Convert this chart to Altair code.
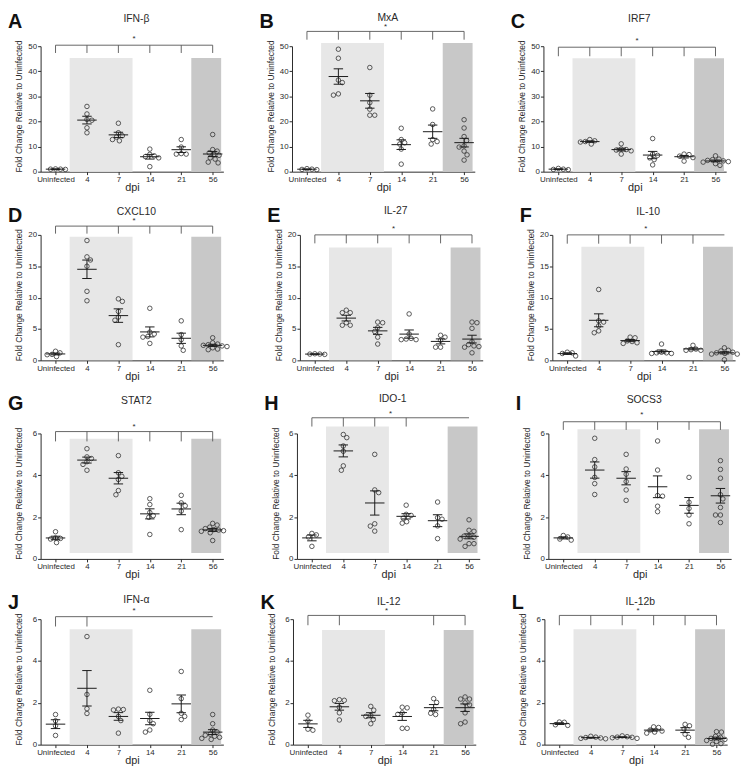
import altair as alt
import pandas as pd

GROUPS = ["Uninfected", "4", "7", "14", "21", "56"]

# ---- data (fold change values per group: Uninfected, 4, 7, 14, 21, 56 dpi) ----
ifn_beta = [[0.9, 1.0, 1.0, 1.1], [26.0, 23.0, 20.8, 20.5, 17.5, 15.5], [19.3, 15.5, 14.3, 13.8, 12.8, 12.3],
            [9.0, 6.9, 6.3, 6.0, 5.5, 2.0], [12.8, 9.8, 7.2, 7.0, 7.0], [14.8, 8.8, 8.2, 7.5, 6.8, 6.5, 5.5, 5.0, 3.8, 3.5]]
mxa = [[0.8, 0.9, 1.0, 1.2], [48.8, 45.2, 36.5, 35.5, 31.0, 30.5], [41.5, 30.5, 27.5, 24.9, 22.5, 22.5],
       [17.3, 12.8, 11.5, 11.0, 9.0, 3.0], [25.0, 18.8, 12.8, 12.0, 11.0], [20.7, 17.4, 14.0, 12.4, 10.3, 9.8, 8.2, 6.7, 4.6]]
irf7 = [[0.8, 0.9, 1.0, 1.3], [11.0, 11.8, 12.0, 12.3, 12.8], [11.1, 9.0, 8.8, 8.6, 8.3, 7.0],
        [13.2, 7.0, 6.5, 5.5, 4.8, 2.7], [7.0, 6.8, 6.2, 5.6, 4.2], [6.3, 5.0, 4.8, 4.5, 4.3, 4.0, 3.8, 3.2, 2.5]]
cxcl10 = [[1.2, 0.95, 0.6, 1.45, 0.9], [19.1, 16.5, 16.0, 15.0, 11.0, 9.5], [9.8, 9.4, 7.8, 6.9, 6.4, 2.5],
          [8.3, 4.5, 4.2, 3.8, 3.7, 2.7], [6.3, 4.1, 3.3, 2.3, 1.6], [3.6, 2.8, 2.6, 2.5, 2.4, 2.3, 2.2, 2.0, 1.8, 1.7]]
il27 = [[0.95, 1.0, 1.0, 1.05], [7.6, 7.6, 8.0, 6.0, 5.6, 5.6], [6.1, 6.0, 5.2, 4.6, 3.7, 2.6],
        [7.4, 4.2, 3.5, 3.4, 3.3, 3.3], [3.7, 4.0, 3.2, 2.1, 2.1], [6.1, 6.0, 5.1, 3.0, 2.5, 2.3, 2.2, 2.1, 1.2]]
il10 = [[1.2, 1.1, 0.7, 1.3], [11.3, 6.3, 6.1, 5.5, 4.7, 4.4], [3.7, 3.6, 3.1, 3.0, 2.8, 2.7],
        [2.6, 1.3, 1.2, 1.2, 1.1, 1.1], [2.4, 1.8, 1.7, 1.6, 1.6], [2.0, 1.6, 1.5, 1.3, 1.2, 1.1, 1.0, 1.0, 0.1]]
stat2 = [[1.3, 1.0, 0.98, 0.95, 0.78], [5.27, 4.8, 4.88, 4.65, 4.52, 4.24], [4.94, 3.95, 4.12, 3.8, 3.27, 3.07],
         [2.88, 2.6, 2.22, 2.07, 1.99, 1.17], [3.04, 2.68, 2.54, 2.29, 1.4],
         [1.7, 1.62, 1.52, 1.45, 1.4, 1.38, 1.35, 1.32, 1.25, 0.88]]
ido1 = [[1.15, 1.22, 1.05, 0.6], [5.8, 5.95, 5.4, 5.15, 4.24, 4.45], [5.0, 3.17, 3.3, 1.68, 1.57, 1.33],
        [2.57, 2.13, 2.08, 1.95, 1.78, 1.71], [2.72, 1.97, 1.9, 1.58, 0.97],
        [1.87, 1.37, 1.32, 1.1, 1.09, 1.04, 0.95, 0.73, 0.73, 0.6]]
socs3 = [[1.05, 0.9, 0.95, 1.12], [5.77, 4.75, 4.4, 3.9, 3.6, 3.08], [5.0, 4.3, 4.05, 3.7, 3.3, 2.8],
         [5.64, 4.25, 3.03, 3.0, 2.52, 2.26], [3.9, 2.71, 2.41, 2.1, 1.68],
         [4.7, 4.28, 3.86, 3.07, 2.87, 2.46, 2.1, 2.1, 1.74]]
ifn_alpha = [[1.44, 1.14, 0.9, 0.44], [5.17, 2.4, 1.72, 1.49], [1.7, 1.68, 1.66, 1.35, 1.15, 0.55],
             [2.6, 1.45, 1.15, 1.0, 0.7, 0.6], [3.5, 2.2, 1.5, 1.35, 1.2],
             [1.44, 1.0, 0.7, 0.6, 0.5, 0.45, 0.4, 0.35, 0.3, 0.25]]
il12 = [[1.41, 1.13, 0.69, 0.74], [2.15, 2.1, 2.12, 1.79, 1.52, 1.18], [1.83, 1.65, 1.4, 1.35, 1.2, 1.0],
        [1.79, 1.76, 1.52, 1.45, 0.78, 0.78], [2.2, 2.02, 1.68, 1.5, 1.44],
        [2.28, 2.18, 2.18, 2.0, 1.9, 1.52, 1.08, 1.0]]
il12b = [[1.07, 0.92, 0.95, 1.08], [0.4, 0.36, 0.34, 0.32, 0.3, 0.28], [0.42, 0.38, 0.36, 0.35, 0.33, 0.3],
         [0.85, 0.82, 0.7, 0.65, 0.6, 0.55], [0.97, 0.9, 0.75, 0.5, 0.35],
         [0.62, 0.6, 0.4, 0.35, 0.3, 0.25, 0.2, 0.15, 0.05, 0.02]]

letters = ["A", "B", "C", "D", "E", "F", "G", "H", "I", "J", "K", "L"]
titles = ["IFN-β", "MxA", "IRF7", "CXCL10", "IL-27", "IL-10", "STAT2", "IDO-1", "SOCS3", "IFN-α", "IL-12", "IL-12b"]
series = [ifn_beta, mxa, irf7, cxcl10, il27, il10, stat2, ido1, socs3, ifn_alpha, il12, il12b]
y_max = [50, 50, 50, 20, 20, 20, 6, 6, 6, 6, 6, 6]
y_ticks = [[0, 10, 20, 30, 40, 50]] * 3 + [[0, 5, 10, 15, 20]] * 3 + [[0, 2, 4, 6]] * 6
shade_top = [45.3, 51.3, 45.2, 19.7, 18.0, 18.1, 5.75, 6.33, 6.2, 5.52, 5.48, 5.52]
shade_bottom = [0, 0, 0, 0, 0, 0, 0.28, 0.28, 0.28, 0, 0, 0]
bracket_top = [50.4, 55.9, 49.6, 21.4, 20.0, 20.0, 6.09, 6.75, 6.56, 6.12, 6.18, 6.18]
bracket_tick = [47.3, 52.6, 46.0, 20.2, 18.65, 18.6, 5.62, 6.33, 6.17, 5.65, 5.71, 5.71]
star_y = [52.7, 57.8, 52.0, 22.2, 20.9, 20.9, 6.33, 6.95, 6.89, 6.37, 6.40, 6.40]
ALL = [0, 1, 2, 3, 4, 5]
bracket_ticks = [ALL, ALL, ALL, ALL, ALL, [0, 1, 2, 3, 4], ALL, [0, 1, 2, 3], ALL, [0, 1], [0, 1, 4, 5], ALL]
light_span = [0.45, 2.45]
dark_span = [4.32, 5.27]
title_dy = [-28, -29, -28, -23, -24, -23, -33, -34.5, -34, -19.5, -17.5, -17.5]
row_letter_dy = [34, 29.5, 40, 26.5]

W, H = 185, 127
XMIN, XMAX = -0.475, 5.34
STEP = W / (XMAX - XMIN)
FONT = "Liberation Sans"
INK = "#2a2a2a"


def swarm(vals, ppu):
    order = sorted(range(len(vals)), key=lambda i: -vals[i])
    placed = []
    offs = [0.0] * len(vals)
    d = 4.7
    flip = 1
    for i in order:
        y = vals[i] * ppu
        chosen = None
        k = 0
        while chosen is None:
            cands = [0.0] if k == 0 else [flip * k * 0.5, -flip * k * 0.5]
            for x in cands:
                if all((x - px) ** 2 + (y - py) ** 2 >= d * d for px, py in placed):
                    chosen = x
                    break
            k += 1
        if chosen != 0:
            flip = -flip
        placed.append((chosen, y))
        offs[i] = chosen / STEP
    return offs


def panel(i):
    row = i // 3
    ymax = y_max[i]
    ppu = H / ymax
    recs = []
    for g, vals in enumerate(series[i]):
        for v, o in zip(vals, swarm(vals, ppu)):
            recs.append({"g": g, "v": v, "xp": g + o})
    pts = pd.DataFrame(recs)

    xsc = alt.Scale(domain=[XMIN, XMAX], nice=False, zero=False, padding=0)
    ysc = alt.Scale(domain=[0, ymax], nice=False, zero=True, padding=0)
    xax = alt.Axis(values=ALL, labelExpr="['Uninfected','4','7','14','21','56'][datum.value]",
                   title="dpi", grid=False, tickSize=3, labelPadding=1, labelFontSize=8,
                   labelFont=FONT, labelColor=INK, titleFont=FONT, titleFontSize=11,
                   titleFontWeight="normal", titleColor=INK, titleY=10, titleBaseline="top",
                   domainColor=INK, tickColor=INK, labelAngle=0, labelOverlap=False)
    yax = alt.Axis(values=y_ticks[i], title="Fold Change Relative to Uninfected", grid=False,
                   tickSize=3, labelPadding=1, labelFontSize=8, labelFont=FONT, labelColor=INK,
                   titleFont=FONT, titleFontSize=8.5, titleFontWeight="normal", titleColor=INK,
                   titleX=-17, titleY=H / 2 - 3, domainColor=INK, tickColor=INK)

    def X(f):
        return alt.X(f, scale=xsc, axis=xax)

    def Y(f):
        return alt.Y(f, scale=ysc, axis=yax)

    shade = pd.DataFrame({
        "x0": [light_span[0], dark_span[0]], "x1": [light_span[1], dark_span[1]],
        "y0": [shade_bottom[i]] * 2, "y1": [shade_top[i]] * 2,
        "c": ["#e7e7e7", "#c8c8c8"]})
    l_shade = alt.Chart(shade).mark_rect().encode(
        x=X("x0:Q"), x2="x1:Q", y=Y("y0:Q"), y2="y1:Q", color=alt.Color("c:N", scale=None))

    l_pts = alt.Chart(pts).mark_point(shape="circle", filled=False, size=21, strokeWidth=0.8,
                                      color="#333333", opacity=1).encode(x=X("xp:Q"), y=Y("v:Q"))

    agg = alt.Chart(pts).transform_aggregate(
        m="mean(v)", se="stderr(v)", groupby=["g"]).transform_calculate(
        lo="datum.m - datum.se", hi="datum.m + datum.se",
        xl="datum.g - 0.31", xr="datum.g + 0.31", cl="datum.g - 0.15", cr="datum.g + 0.15")
    rule_kw = dict(color="#1a1a1a", strokeWidth=1)
    l_mean = agg.mark_rule(**rule_kw).encode(x=X("xl:Q"), x2="xr:Q", y=Y("m:Q"))
    l_err = agg.mark_rule(**rule_kw).encode(x=X("g:Q"), y=Y("lo:Q"), y2="hi:Q")
    l_caph = agg.mark_rule(**rule_kw).encode(x=X("cl:Q"), x2="cr:Q", y=Y("hi:Q"))
    l_capl = agg.mark_rule(**rule_kw).encode(x=X("cl:Q"), x2="cr:Q", y=Y("lo:Q"))

    br_h = pd.DataFrame({"a": [0], "b": [5], "y": [bracket_top[i]]})
    l_brh = alt.Chart(br_h).mark_rule(color="#555555", strokeWidth=0.9).encode(
        x=X("a:Q"), x2="b:Q", y=Y("y:Q"))
    br_t = pd.DataFrame({"x": bracket_ticks[i], "y0": [bracket_tick[i]] * len(bracket_ticks[i]),
                         "y1": [bracket_top[i]] * len(bracket_ticks[i])})
    l_brt = alt.Chart(br_t).mark_rule(color="#555555", strokeWidth=0.9).encode(
        x=X("x:Q"), y=Y("y0:Q"), y2="y1:Q")
    star = pd.DataFrame({"x": [2.5], "y": [star_y[i]], "t": ["*"]})
    l_star = alt.Chart(star).mark_text(font=FONT, fontSize=8, color=INK, baseline="middle").encode(
        x=X("x:Q"), y=Y("y:Q"), text="t:N")

    l_title = alt.Chart(pd.DataFrame({"t": [titles[i]]})).mark_text(
        font=FONT, fontSize=10.5, color=INK, align="center", baseline="middle").encode(
        text="t:N", x=alt.value(97), y=alt.value(title_dy[i]))
    l_letter = alt.Chart(pd.DataFrame({"t": [letters[i]]})).mark_text(
        font=FONT, fontSize=20, fontWeight="bold", color="#111111", align="left", baseline="top").encode(
        text="t:N", x=alt.value(-33), y=alt.value(-row_letter_dy[row]))

    return alt.layer(l_shade, l_brh, l_brt, l_star, l_pts, l_mean, l_err, l_caph, l_capl,
                     l_title, l_letter).properties(width=W, height=H)


rows = [alt.hconcat(*[panel(r * 3 + c) for c in range(3)], spacing=36.5) for r in range(4)]
chart = alt.vconcat(*rows, spacing=13).properties(padding=0).configure_view(stroke=None)

chart.save("out.html", embed_options={"renderer": "svg", "actions": False})
